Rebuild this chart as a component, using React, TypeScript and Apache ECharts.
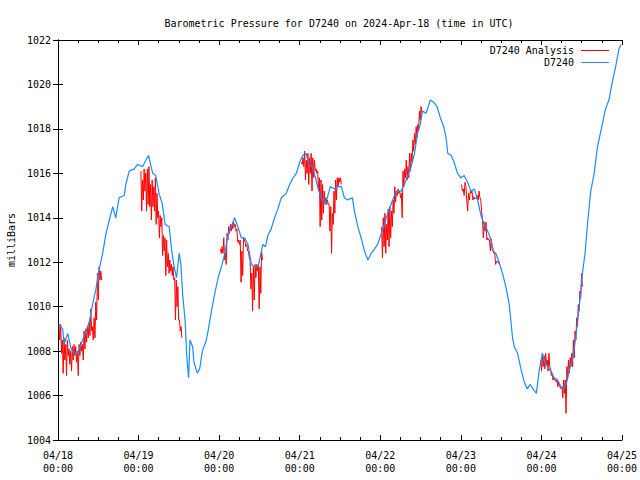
import React, { useEffect, useRef } from "react";
import * as echarts from "echarts";

// ---- data (hours since 2024-04-18 00:00 UTC) ----
const dayLabels = ["04/18", "04/19", "04/20", "04/21", "04/22", "04/23", "04/24", "04/25"];
const yTickMin = 1004;
const yTickMax = 1022;
const yTickStep = 2;

// D7240 observations: [hour, millibars]
const d7240: [number, number][] = [
  [0.2, 1009.2], [1.4, 1009.0], [1.8, 1008.3], [2.9, 1008.8], [3.9, 1008.1], [4.8, 1007.9], [5.9, 1007.9], [6.8, 1008.3],
  [8.3, 1008.9], [9.3, 1009.3], [10.3, 1010.1], [11.3, 1010.8], [12.3, 1011.7], [13.3, 1012.4], [14.3, 1013.3], [15.3, 1013.9],
  [16.3, 1014.5], [17.2, 1014.0], [18.2, 1014.9], [19.7, 1015.0], [20.2, 1015.5], [21.2, 1016.1], [22.7, 1016.2], [23.7, 1016.4],
  [25.2, 1016.3], [26.2, 1016.6], [27.0, 1016.8], [28.2, 1016.0], [29.1, 1015.9], [30.1, 1015.1], [31.1, 1014.6], [31.9, 1013.7],
  [33.1, 1013.6], [33.9, 1012.5], [34.6, 1011.8], [35.3, 1011.3], [36.1, 1012.4], [36.6, 1011.9], [37.1, 1010.6], [37.9, 1009.3],
  [38.3, 1007.9], [38.9, 1006.8], [39.3, 1008.5], [40.1, 1008.2], [40.5, 1007.5], [41.5, 1007.0], [42.2, 1007.2], [43.0, 1008.0],
  [44.2, 1008.5], [44.7, 1008.9], [45.7, 1009.8], [46.7, 1010.6], [47.7, 1011.3], [48.7, 1011.8], [49.7, 1012.4], [50.6, 1013.2],
  [51.6, 1013.6], [52.6, 1014.0], [53.6, 1013.6], [54.6, 1013.1], [55.6, 1013.1], [56.6, 1012.8], [57.6, 1011.9], [58.6, 1011.8],
  [59.6, 1011.8], [60.6, 1012.5], [61.0, 1012.8], [61.8, 1012.7], [62.5, 1013.2], [63.5, 1013.5], [64.5, 1014.0], [65.5, 1014.4],
  [66.5, 1014.9], [68.0, 1015.1], [69.0, 1015.5], [70.0, 1015.8], [71.0, 1016.0], [72.0, 1016.5], [72.9, 1016.8], [73.9, 1016.9],
  [74.7, 1016.4], [75.7, 1016.3], [76.7, 1015.8], [77.7, 1015.2], [78.7, 1014.8], [79.7, 1014.6], [80.4, 1015.0], [81.1, 1015.4],
  [82.4, 1015.3], [83.3, 1015.4], [84.4, 1015.4], [85.3, 1014.9], [86.3, 1014.8], [87.7, 1014.9], [88.3, 1014.3], [89.3, 1013.6],
  [90.3, 1013.1], [91.3, 1012.5], [92.3, 1012.1], [93.3, 1012.4], [94.3, 1012.6], [95.2, 1012.8], [96.3, 1013.3], [97.2, 1013.7],
  [98.2, 1014.2], [99.2, 1014.6], [100.2, 1015.0], [101.2, 1015.2], [102.2, 1015.2], [103.2, 1015.5], [104.2, 1015.9], [105.2, 1016.3],
  [106.2, 1016.9], [107.1, 1017.8], [107.9, 1018.2], [108.6, 1018.8], [109.6, 1018.7], [110.3, 1019.0], [110.9, 1019.3], [111.9, 1019.2],
  [112.9, 1019.0], [113.9, 1018.5], [114.9, 1018.1], [115.6, 1017.6], [116.1, 1016.9], [117.1, 1016.8], [118.0, 1016.5], [119.0, 1016.0],
  [120.0, 1015.8], [121.0, 1015.9], [122.0, 1015.6], [123.0, 1015.2], [124.0, 1015.3], [125.0, 1014.8], [126.0, 1014.1], [127.0, 1013.7],
  [128.0, 1013.4], [129.0, 1013.0], [129.7, 1012.5], [130.4, 1012.4], [131.4, 1012.0], [132.4, 1011.5], [133.4, 1010.9], [134.4, 1010.1],
  [135.4, 1008.6], [135.9, 1008.2], [136.9, 1007.9], [137.9, 1007.2], [138.9, 1006.6], [139.8, 1006.3], [140.6, 1006.5], [141.5, 1006.3],
  [142.5, 1006.1], [143.3, 1007.1], [144.3, 1007.9], [145.0, 1007.5], [145.8, 1007.3], [146.8, 1007.1], [147.8, 1006.8], [148.8, 1006.7],
  [149.8, 1006.4], [150.8, 1006.3], [151.7, 1006.7], [152.2, 1007.1], [153.2, 1007.6], [154.2, 1008.6], [155.0, 1009.7], [155.7, 1010.6],
  [156.2, 1011.5], [157.0, 1012.4], [157.7, 1013.7], [158.7, 1015.2], [159.7, 1016.0], [160.7, 1017.2], [161.7, 1017.9], [163.1, 1018.9],
  [164.1, 1019.3], [165.1, 1020.1], [166.1, 1020.8], [167.1, 1021.6], [167.7, 1021.8],
];

// D7240 Analysis: daily segments, evenly sampled between start and end hour
const analysisStart = [0.3, 24.7, 48.4, 72.5, 96.4, 120.2, 143.8];
const analysisEnd = [13.0, 36.9, 60.9, 84.4, 108.4, 131.4, 156.2];
const analysisSeg1 = [1009.2, 1008.5, 1009.2, 1007.9, 1008.5, 1007.0, 1008.6, 1007.6, 1008.3, 1006.9, 1008.5, 1007.8, 1008.1, 1007.4, 1008.0, 1007.1, 1008.2, 1007.6, 1008.3, 1007.8, 1008.2, 1007.5, 1008.0, 1006.9, 1008.3, 1007.8, 1008.4, 1008.0, 1008.3, 1007.6, 1008.9, 1008.1, 1009.0, 1008.4, 1009.1, 1008.6, 1009.3, 1008.7, 1009.9, 1008.9, 1009.1, 1008.5, 1009.5, 1008.6, 1010.2, 1009.4, 1011.5, 1010.3, 1011.8, 1011.2, 1011.6, 1011.2];
const analysisSeg2 = [1016.1, 1014.3, 1015.7, 1014.8, 1016.2, 1015.2, 1016.0, 1014.3, 1016.2, 1014.6, 1016.3, 1014.5, 1015.5, 1013.9, 1015.7, 1014.5, 1015.4, 1014.3, 1015.8, 1013.7, 1015.1, 1014.0, 1014.3, 1013.1, 1014.1, 1013.6, 1014.0, 1012.3, 1013.2, 1012.5, 1013.1, 1011.4, 1013.0, 1011.8, 1012.4, 1011.5, 1012.1, 1011.6, 1011.9, 1011.4, 1011.8, 1011.2, 1011.3, 1009.4, 1011.2, 1010.0, 1010.9, 1009.4, 1009.4, 1008.9, 1009.1, 1008.6];
const analysisSeg3 = [1012.6, 1012.4, 1012.7, 1012.4, 1013.1, 1012.1, 1012.4, 1011.9, 1013.3, 1013.0, 1013.6, 1013.3, 1013.7, 1013.4, 1013.7, 1013.5, 1013.8, 1013.6, 1013.7, 1013.4, 1013.5, 1012.9, 1013.0, 1012.8, 1013.0, 1011.1, 1012.5, 1011.4, 1013.1, 1013.0, 1012.9, 1012.7, 1012.8, 1012.5, 1012.5, 1012.2, 1012.1, 1010.8, 1011.5, 1009.8, 1011.8, 1010.3, 1011.9, 1011.3, 1011.9, 1011.6, 1011.9, 1009.9, 1011.8, 1010.6, 1012.5, 1012.1];
const analysisSeg4 = [1016.5, 1016.4, 1016.7, 1016.3, 1017.0, 1015.7, 1016.6, 1016.0, 1016.9, 1015.5, 1016.7, 1016.0, 1016.9, 1015.2, 1016.7, 1015.8, 1016.6, 1016.1, 1016.2, 1016.0, 1016.1, 1015.2, 1015.8, 1013.6, 1015.7, 1013.9, 1015.5, 1014.2, 1015.2, 1014.7, 1014.9, 1014.6, 1014.8, 1014.6, 1014.6, 1013.4, 1014.5, 1012.4, 1014.2, 1013.7, 1015.2, 1014.2, 1015.7, 1014.8, 1015.8, 1015.4, 1015.8, 1015.6, 1015.8, 1015.5];
const analysisSeg5 = [1013.6, 1012.2, 1014.0, 1012.7, 1014.2, 1012.4, 1013.7, 1013.0, 1014.4, 1012.7, 1014.5, 1013.1, 1014.3, 1013.6, 1014.8, 1014.2, 1015.4, 1014.7, 1015.2, 1015.0, 1015.3, 1015.1, 1015.2, 1014.9, 1015.1, 1014.0, 1016.1, 1015.4, 1016.2, 1015.8, 1016.6, 1015.7, 1016.3, 1015.8, 1016.9, 1016.1, 1016.9, 1016.5, 1017.5, 1017.0, 1017.8, 1017.3, 1018.1, 1017.6, 1018.2, 1017.9, 1018.8, 1018.4, 1019.0, 1018.7];
const analysisSeg6 = [1015.5, 1015.2, 1015.3, 1015.0, 1015.6, 1015.4, 1014.8, 1014.3, 1015.1, 1014.8, 1015.2, 1015.1, 1015.2, 1014.8, 1014.95, 1014.85, 1014.9, 1014.85, 1015.0, 1014.8, 1015.2, 1014.9, 1014.8, 1014.3, 1013.9, 1013.1, 1013.8, 1013.4, 1013.8, 1013.0, 1013.1, 1013.0, 1013.0, 1012.5, 1013.05, 1012.6, 1012.5, 1012.4, 1012.4, 1011.9, 1012.05, 1012.0, 1012.05, 1011.9];
const analysisSeg7 = [1007.6, 1007.1, 1007.9, 1007.3, 1007.8, 1007.2, 1007.9, 1007.4, 1007.6, 1007.1, 1007.9, 1007.3, 1007.2, 1006.9, 1007.0, 1006.7, 1006.8, 1006.7, 1006.7, 1006.6, 1006.7, 1006.4, 1006.6, 1006.4, 1006.4, 1006.3, 1006.4, 1005.9, 1006.7, 1006.1, 1006.7, 1005.2, 1007.3, 1006.8, 1007.6, 1007.0, 1007.7, 1007.3, 1007.9, 1007.3, 1008.5, 1007.7, 1008.9, 1008.5, 1009.5, 1009.1, 1010.1, 1009.8, 1010.7, 1010.4, 1011.5, 1010.9];
const analysisSegments = [analysisSeg1, analysisSeg2, analysisSeg3, analysisSeg4, analysisSeg5, analysisSeg6, analysisSeg7];

const titleText = "Barometric Pressure for D7240 on 2024-Apr-18 (time in UTC)";
const FONT = "DejaVu Sans Mono";
const RED = "#ff0000";
const BLUE = "#1a8cff";

function buildAnalysis(): (number | null)[][] {
  const out: (number | null)[][] = [];
  analysisSegments.forEach((vals, i) => {
    const s = analysisStart[i];
    const e = analysisEnd[i];
    const n = vals.length;
    vals.forEach((v, k) => {
      out.push([s + ((e - s) * k) / (n - 1), v]);
    });
    out.push([e + 0.5, null]);
  });
  return out;
}

export default function App() {
  const ref = useRef<HTMLDivElement>(null);
  useEffect(() => {
    document.body.style.margin = "0";
    const chart = echarts.init(ref.current!, null, { renderer: "svg" });
    const xCommon = {
      type: "value",
      min: 0,
      max: 168,
      interval: 24,
      axisLine: { show: true, lineStyle: { color: "#000", width: 1 } },
      axisTick: { show: true, inside: true, length: 5, lineStyle: { color: "#000" } },
      minorTick: { show: true, splitNumber: 4, length: 3, lineStyle: { color: "#000" } },
      splitLine: { show: false },
      minorSplitLine: { show: false },
    };
    const yCommon = {
      type: "value",
      min: yTickMin,
      max: yTickMax,
      interval: yTickStep,
      axisLine: { show: true, lineStyle: { color: "#000", width: 1 } },
      axisTick: { show: true, inside: true, length: 5, lineStyle: { color: "#000" } },
      splitLine: { show: false },
    };
    chart.setOption({
      animation: false,
      backgroundColor: "#fff",
      title: {
        text: titleText,
        left: 334,
        textAlign: "center",
        top: 13,
        textStyle: { fontFamily: FONT, fontSize: 10, fontWeight: "normal", color: "#000" },
      },
      grid: { left: 58, right: 18, top: 40, bottom: 40, containLabel: false, outerBoundsMode: "none" },
      xAxis: [
        {
          ...xCommon,
          position: "bottom",
          axisLabel: {
            show: true,
            margin: 9,
            color: "#000",
            fontFamily: FONT,
            fontSize: 10,
            lineHeight: 13,
            formatter: (v: number) => `${dayLabels[Math.round(v / 24)]}\n00:00`,
          },
        },
        { ...xCommon, position: "top", axisLabel: { show: false } },
      ],
      yAxis: [
        {
          ...yCommon,
          position: "left",
          name: "milliBars",
          nameLocation: "middle",
          nameRotate: 90,
          nameGap: 42,
          nameTextStyle: { fontFamily: FONT, fontSize: 10, color: "#000" },
          axisLabel: {
            show: true,
            margin: 7,
            color: "#000",
            fontFamily: FONT,
            fontSize: 10,
            formatter: (v: number) => String(v),
          },
        },
        { ...yCommon, position: "right", axisLabel: { show: false } },
      ],
      series: [
        {
          name: "D7240 Analysis",
          type: "line",
          data: buildAnalysis(),
          showSymbol: false,
          connectNulls: false,
          lineStyle: { color: RED, width: 1 },
          itemStyle: { color: RED },
          z: 2,
        },
        {
          name: "D7240",
          type: "line",
          data: d7240,
          showSymbol: false,
          lineStyle: { color: BLUE, width: 1.2 },
          itemStyle: { color: BLUE },
          z: 3,
        },
      ],
      graphic: [
        {
          type: "text",
          x: 574,
          y: 50,
          style: { text: "D7240 Analysis", fontFamily: FONT, fontSize: 10, fill: "#000", textAlign: "right", textVerticalAlign: "middle" },
        },
        { type: "line", shape: { x1: 581, y1: 50.5, x2: 609, y2: 50.5 }, style: { stroke: RED, lineWidth: 1 } },
        {
          type: "text",
          x: 574,
          y: 62,
          style: { text: "D7240", fontFamily: FONT, fontSize: 10, fill: "#000", textAlign: "right", textVerticalAlign: "middle" },
        },
        { type: "line", shape: { x1: 581, y1: 62.5, x2: 609, y2: 62.5 }, style: { stroke: BLUE, lineWidth: 1 } },
      ],
    });
    return () => chart.dispose();
  }, []);
  return <div ref={ref} style={{ width: 640, height: 480 }} />;
}
